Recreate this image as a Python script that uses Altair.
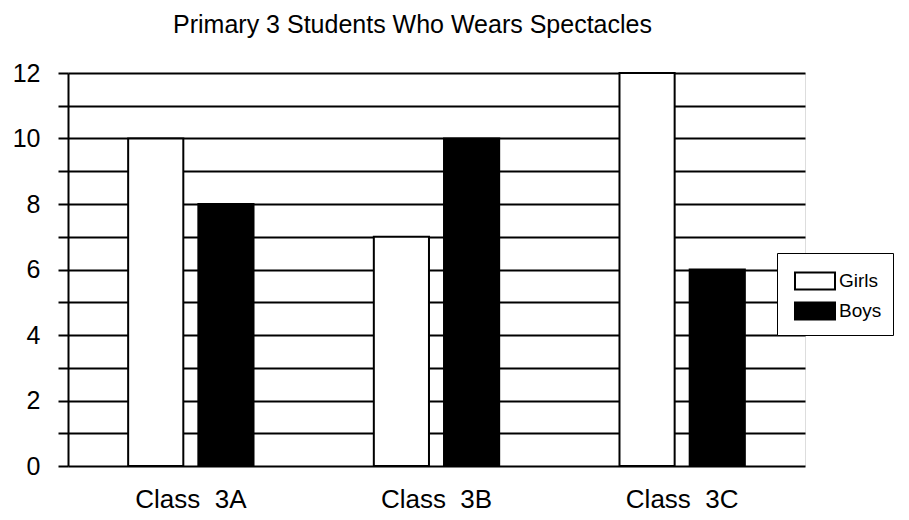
import altair as alt
import pandas as pd

classes = ["Class\u00a0\u00a03A", "Class\u00a0\u00a03B", "Class\u00a0\u00a03C"]
girls = [10, 7, 12]
boys = [8, 10, 6]
genders = ["Girls", "Boys"]
y_ticks = list(range(0, 13))

rows = []
for c, g, b in zip(classes, girls, boys):
    rows.append({"Class": c, "Gender": "Girls", "Count": g})
    rows.append({"Class": c, "Gender": "Boys", "Count": b})
df = pd.DataFrame(rows)

FONT = "Liberation Sans"

chart = alt.Chart(df).mark_bar(stroke="black", strokeWidth=2).encode(
    x=alt.X("Class:N", sort=classes, title=None,
            scale=alt.Scale(paddingInner=0, paddingOuter=0),
            axis=alt.Axis(labelAngle=0, ticks=False, domain=False, grid=False,
                          labelFontSize=26, labelFont=FONT, labelColor="black",
                          labelBaseline="alphabetic", labelPadding=41)),
    xOffset=alt.XOffset("Gender:N", sort=genders,
                        scale=alt.Scale(paddingInner=0.2143, paddingOuter=0.857)),
    y=alt.Y("Count:Q", title=None,
            scale=alt.Scale(domain=[0, 12], nice=False),
            axis=alt.Axis(values=y_ticks,
                          labelExpr="datum.value % 2 == 0 ? datum.label : ''",
                          grid=True, gridColor="black", gridWidth=2, gridOpacity=1,
                          domain=True, domainColor="black", domainWidth=2,
                          ticks=True, tickSize=10, tickColor="black", tickWidth=2,
                          labelFontSize=25, labelFont=FONT, labelColor="black",
                          labelPadding=18)),
    color=alt.Color("Gender:N", sort=genders,
                    scale=alt.Scale(domain=genders, range=["white", "black"]),
                    legend=alt.Legend(title=None, orient="none", legendX=709, legendY=180,
                                      symbolType="M-0.625,-0.53H1.875V0.53H-0.625Z", symbolSize=1024,
                                      symbolStrokeColor="black", symbolStrokeWidth=2,
                                      labelFontSize=19, labelFont=FONT, labelColor="black",
                                      labelOffset=17, rowPadding=0, padding=11,
                                      labelExpr="datum.label + '\u00a0\u00a0\u00a0\u00a0\u00a0\u00a0\u00a0\u00a0\u00a0\u00a0\u00a0\u00a0\u00a0\u00a0'",
                                      strokeColor="black", fillColor="white")),
).properties(
    width=737,
    height=393,
    autosize=alt.AutoSizeParams(type="none"),
    padding={"left": 60, "top": 65, "right": 96, "bottom": 46},
    title=alt.TitleParams("Primary 3 Students Who Wears Spectacles",
                          fontSize=25, font=FONT, fontWeight="normal", color="black",
                          anchor="middle", frame="group", baseline="alphabetic",
                          offset=3, dx=-24),
).configure_view(stroke=None).configure(background="white")

chart.save("out.html", embed_options={"renderer": "svg", "actions": False})
